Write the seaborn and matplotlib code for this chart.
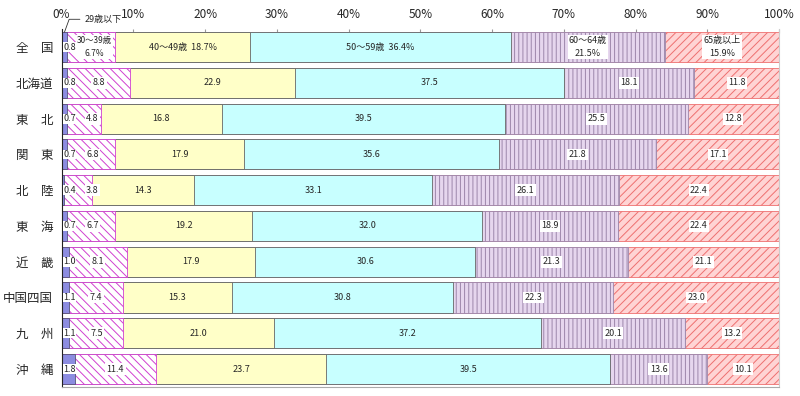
import matplotlib
matplotlib.use("Agg")
import matplotlib.pyplot as plt
import pandas as pd
import seaborn as sns

regions = ["全　国", "北海道", "東　北", "関　東", "北　陸", "東　海", "近　畿", "中国四国", "九　州", "沖　縄"]
ages = ["29歳以下", "30～39歳", "40～49歳", "50～59歳", "60～64歳", "65歳以上"]
under29 = [0.8, 0.8, 0.7, 0.7, 0.4, 0.7, 1.0, 1.1, 1.1, 1.8]
age30s = [6.7, 8.8, 4.8, 6.8, 3.8, 6.7, 8.1, 7.4, 7.5, 11.4]
age40s = [18.7, 22.9, 16.8, 17.9, 14.3, 19.2, 17.9, 15.3, 21.0, 23.7]
age50s = [36.4, 37.5, 39.5, 35.6, 33.1, 32.0, 30.6, 30.8, 37.2, 39.5]
age60_64 = [21.5, 18.1, 25.5, 21.8, 26.1, 18.9, 21.3, 22.3, 20.1, 13.6]
over65 = [15.9, 11.8, 12.8, 17.1, 22.4, 22.4, 21.1, 23.0, 13.2, 10.1]
xticks = [0, 10, 20, 30, 40, 50, 60, 70, 80, 90, 100]

# face colour, hatch, hatch/edge colour for each age band
styles = [
    ("#8c8ce0", "", "#555577"),
    ("#ffffff", "\\\\\\\\", "#d040d0"),
    ("#ffffc8", "", "#666666"),
    ("#c8ffff", "", "#666666"),
    ("#e6d6ee", "||||", "#9c86aa"),
    ("#ffd4d4", "////", "#ee7070"),
]

sns.set_style("white")
plt.rcParams["font.family"] = ["Noto Sans CJK JP", "DejaVu Sans"]
plt.rcParams["hatch.linewidth"] = 0.7

df = pd.DataFrame(
    dict(zip(ages, [under29, age30s, age40s, age50s, age60_64, over65])), index=regions
)
cum = df.cumsum(axis=1)
cum[ages[-1]] = 100.0

fig = plt.figure(figsize=(8, 3.96), dpi=100)
ax = fig.add_axes([0.077, 0.023, 0.897, 0.903])

# draw cumulative bars, widest first, so each band shows as a segment
for i in reversed(range(len(ages))):
    face, hatch, ec = styles[i]
    sns.barplot(
        x=cum[ages[i]].values, y=regions, orient="h", color=face, width=0.84,
        errorbar=None, ax=ax, edgecolor=ec, linewidth=0.6, hatch=hatch or None,
        saturation=1,
    )

ax.set_xlim(0, 100)
ax.set_ylim(9.5, -0.5)
ax.set_xlabel("")
ax.set_ylabel("")
ax.set_xticks(xticks)
ax.set_xticklabels([f"{t}%" for t in xticks])
ax.xaxis.tick_top()
ax.tick_params(axis="x", labelsize=8.5, length=3, color="#999999", pad=6, direction="in")
ax.tick_params(axis="y", labelsize=9, length=0, pad=6)
ax.spines["top"].set_visible(False)
ax.spines["left"].set_color("#222222")
ax.spines["right"].set_color("#cccccc")
ax.spines["bottom"].set_color("#aaaaaa")

box = dict(boxstyle="square,pad=0.15", fc="white", ec="none")
for r, region in enumerate(regions):
    vals = df.loc[region].values
    ends = cum.loc[region].values
    for i, v in enumerate(vals):
        mid = ends[i] - v / 2
        if i == 0:
            ax.text(0.25, r, f"{v:.1f}", ha="left", va="center", fontsize=6.5,
                    bbox=dict(boxstyle="square,pad=0.05", fc="white", ec="none"))
            continue
        fs = 6.5
        if r == 0:
            if i in (1, 4, 5):
                txt = f"{ages[i]}\n{v:.1f}%"
            else:
                txt = f"{ages[i]}  {v:.1f}%"
            if i == 1:
                mid, fs = 4.6, 6
        else:
            txt = f"{v:.1f}"
            if i == 1:
                mid = max(mid, 4.3)
        ax.text(mid, r, txt, ha="center", va="center", fontsize=fs,
                linespacing=1.5, bbox=box if i in (1, 4, 5) else None)

ax.annotate("29歳以下", xy=(0.4, -0.42), xytext=(3.2, -0.78), fontsize=6.5,
            ha="left", va="center", annotation_clip=False,
            arrowprops=dict(arrowstyle="-", color="#333333", lw=0.6,
                            shrinkA=1, shrinkB=0,
                            connectionstyle="angle,angleA=0,angleB=70,rad=0"))

fig.savefig("out.png", dpi=100)
